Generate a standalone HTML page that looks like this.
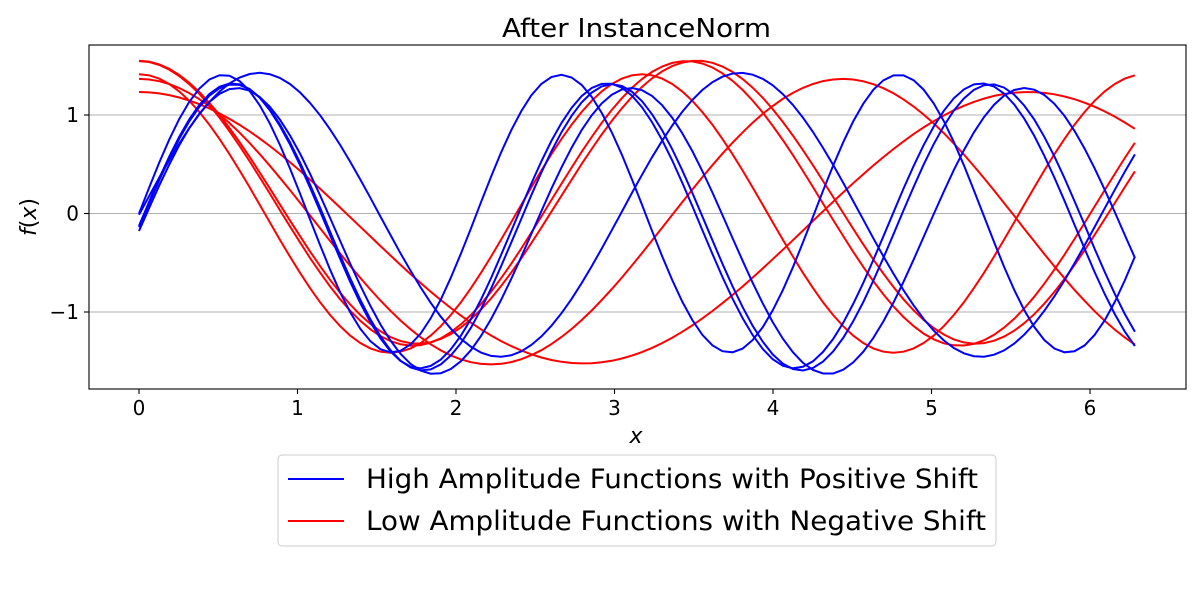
<!DOCTYPE html>
<html><head><style>
body{margin:0;background:#fff;}
text{font-family:"DejaVu Sans","Liberation Sans",sans-serif;fill:#000;}
</style></head><body>
<svg id="s" width="1200" height="600" xmlns="http://www.w3.org/2000/svg">
<rect width="1200" height="600" fill="#fff"/>
<g stroke="#b0b0b0" stroke-width="1.1">
<line x1="89" x2="1186" y1="115" y2="115"/>
<line x1="89" x2="1186" y1="213.5" y2="213.5"/>
<line x1="89" x2="1186" y1="312" y2="312"/>
</g>
<g id="curves" fill="none" stroke-width="2"></g>
<rect x="89" y="45" width="1097" height="344" fill="none" stroke="#000" stroke-width="1.1"/>
<g stroke="#000" stroke-width="1.1">
<line x1="139" x2="139" y1="389" y2="394"/><line x1="297.5" x2="297.5" y1="389" y2="394"/>
<line x1="456" x2="456" y1="389" y2="394"/><line x1="614.5" x2="614.5" y1="389" y2="394"/>
<line x1="773" x2="773" y1="389" y2="394"/><line x1="931.5" x2="931.5" y1="389" y2="394"/>
<line x1="1090" x2="1090" y1="389" y2="394"/>
<line x1="84" x2="89" y1="115" y2="115"/><line x1="84" x2="89" y1="213.5" y2="213.5"/><line x1="84" x2="89" y1="312" y2="312"/>
</g>
<g font-size="20" text-anchor="middle">
<text x="139" y="415">0</text><text x="297.5" y="415">1</text><text x="456" y="415">2</text>
<text x="614.5" y="415">3</text><text x="773" y="415">4</text><text x="931.5" y="415">5</text><text x="1090" y="415">6</text>
</g>
<g font-size="20" text-anchor="end">
<text x="79" y="122">1</text><text x="79" y="220.5">0</text><text x="79" y="319">−1</text>
</g>
<text x="502" y="37" font-size="26" textLength="269" lengthAdjust="spacingAndGlyphs">After InstanceNorm</text>
<text x="636" y="443" font-size="22" font-style="italic" text-anchor="middle">x</text>
<text transform="translate(36,217) rotate(-90)" font-size="22" text-anchor="middle"><tspan font-style="italic">f</tspan>(<tspan font-style="italic">x</tspan>)</text>
<rect x="278" y="455" width="718" height="91" rx="4" fill="#fff" stroke="#ccc" stroke-width="1"/>
<line x1="288" x2="344" y1="479" y2="479" stroke="#00f" stroke-width="2"/>
<line x1="288" x2="344" y1="521" y2="521" stroke="#f00" stroke-width="2"/>
<text x="366" y="488" font-size="27" textLength="612" lengthAdjust="spacingAndGlyphs">High Amplitude Functions with Positive Shift</text>
<text x="366" y="530" font-size="27" textLength="620" lengthAdjust="spacingAndGlyphs">Low Amplitude Functions with Negative Shift</text>
</svg>
<script>
var g=document.getElementById('curves');
function add(fn,col){
 var N=100,xs=[],ys=[],m=0;
 for(var i=0;i<N;i++){var x=2*Math.PI*i/(N-1);xs.push(x);var y=fn(x);ys.push(y);m+=y;}
 m/=N;var v=0;ys.forEach(function(y){v+=(y-m)*(y-m)});var sd=Math.sqrt(v/N);
 var d='';for(var i=0;i<N;i++){var px=139+xs[i]*158.5,py=213.5-(ys[i]-m)/sd*98.5;d+=(i?'L':'M')+px.toFixed(1)+' '+py.toFixed(1);}
 var p=document.createElementNS('http://www.w3.org/2000/svg','path');p.setAttribute('d',d);p.setAttribute('stroke',col);g.appendChild(p);
}
[1.12,1.415,1.785,1.82,1.98].forEach(function(w){add(function(x){return Math.cos(w*x)},'#f00')});
[2.07,2.53,2.63,2.66,2.95].forEach(function(w){add(function(x){return Math.sin(w*x)},'#00f')});
</script>
</body></html>
